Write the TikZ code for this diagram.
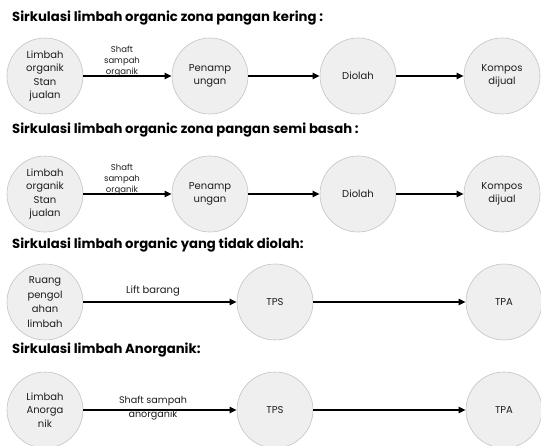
\documentclass[tikz,border=0pt]{standalone}
\usepackage{fontspec}
\setmainfont{Poppins}
\usetikzlibrary{arrows.meta}
\definecolor{cfill}{HTML}{EFEFEF}
\definecolor{cline}{HTML}{C4C4C4}
\definecolor{ctext}{HTML}{1E1E1E}
\begin{document}
\begin{tikzpicture}[x=1pt,y=-1pt,
  stage/.style={circle, draw=cline, fill=cfill, line width=0.6pt, minimum size=76pt, inner sep=0pt, align=center, font=\fontsize{10}{13.5}\selectfont, text=ctext},
  title/.style={anchor=west, font=\fontsize{13.2}{15}\selectfont\bfseries, inner sep=0pt},
  flow/.style={line width=2pt, -{Triangle[length=7pt,width=6pt]}},
  lbl/.style={align=center, inner sep=0pt, text=ctext}]
\useasboundingbox (0,0) rectangle (541,445);
\fill[white] (0,0) rectangle (541,445);

% Row 1
\node[title] (t1) at (12,18) {Sirkulasi limbah organic zona pangan kering :};
\node[stage] (a1) at (45,76) {Limbah\\organik\\Stan\\jualan};
\node[stage] (a2) at (210,76) {Penamp\\ungan};
\node[stage] (a3) at (358,76) {Diolah};
\node[stage] (a4) at (502,76) {Kompos\\dijual};
\draw[flow] (a1) -- (a2);
\draw[flow] (a2) -- (a3);
\draw[flow] (a3) -- (a4);
\node[lbl, anchor=south, font=\fontsize{8.5}{11}\selectfont] (la) at (122,76.5) {Shaft\\sampah\\organik};

% Row 2
\node[title] (t2) at (12,130) {Sirkulasi limbah organic zona pangan semi basah :};
\node[stage] (b1) at (45,194) {Limbah\\organik\\Stan\\jualan};
\node[stage] (b2) at (210,194) {Penamp\\ungan};
\node[stage] (b3) at (358,194) {Diolah};
\node[stage] (b4) at (502,194) {Kompos\\dijual};
\draw[flow] (b1) -- (b2);
\draw[flow] (b2) -- (b3);
\draw[flow] (b3) -- (b4);
\node[lbl, anchor=south, font=\fontsize{8.5}{11}\selectfont] (lb) at (122,194.5) {Shaft\\sampah\\organik};

% Row 3
\node[title] (t3) at (12,245) {Sirkulasi limbah organic yang tidak diolah:};
\node[stage, font=\fontsize{10}{14.5}\selectfont] (c1) at (45,302) {Ruang\\pengol\\ahan\\limbah};
\node[stage] (c2) at (275,302) {TPS};
\node[stage] (c3) at (504,302) {TPA};
\draw[flow] (c1) -- (c2);
\draw[flow] (c2) -- (c3);
\node[lbl, font=\fontsize{10}{12}\selectfont] (lc) at (153,291) {Lift barang};

% Row 4
\node[title] (t4) at (12,350) {Sirkulasi limbah Anorganik:};
\node[stage] (d1) at (45,410) {Limbah\\Anorga\\nik};
\node[stage] (d2) at (275,410) {TPS};
\node[stage] (d3) at (504,410) {TPA};
\draw[flow] (d1) -- (d2);
\draw[flow] (d2) -- (d3);
\node[lbl, font=\fontsize{9.6}{14}\selectfont] (ld) at (153,408) {Shaft sampah\\anorganik};
\end{tikzpicture}
\end{document}
